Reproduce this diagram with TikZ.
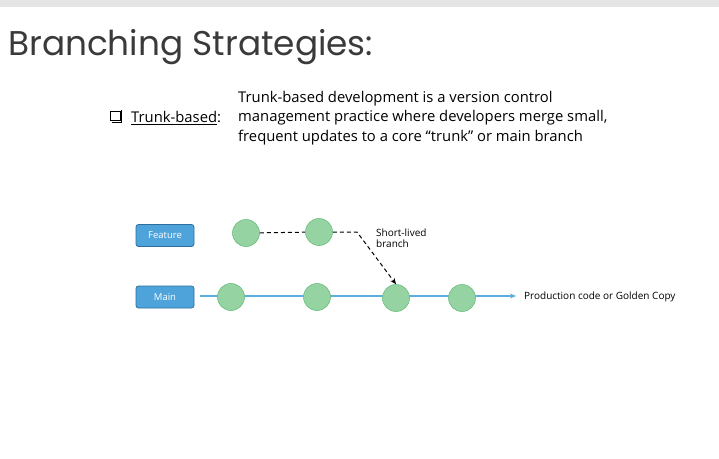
\documentclass[tikz,border=0pt]{standalone}
\usepackage{fontspec}
\setmainfont{Open Sans}
\newfontfamily\titlefont{Poppins}
\usetikzlibrary{arrows.meta}
\definecolor{titlegray}{HTML}{3A3A3A}
\definecolor{boxblue}{HTML}{4EA3DB}
\definecolor{boxedge}{HTML}{2F6E9C}
\definecolor{linblue}{HTML}{5AAFE0}
\definecolor{cfill}{HTML}{95D3A2}
\definecolor{cedge}{HTML}{6CBF7E}
\tikzset{
  lbl/.style={draw=boxedge, fill=boxblue, rounded corners=2.5pt, minimum width=58pt, minimum height=22pt, text=white, font=\fontsize{9.5}{10}\selectfont, inner sep=0pt, line width=0.8pt},
  commit/.style={circle, draw=cedge, fill=cfill, minimum size=27pt, inner sep=0pt, line width=0.6pt},
  dsh/.style={dashed, dash pattern=on 4pt off 3pt, line width=1pt, black},
  small/.style={font=\fontsize{10}{11}\selectfont, text=black, anchor=west, inner sep=0pt, align=left},
}
\begin{document}
\begin{tikzpicture}[x=1pt,y=-1pt]
\useasboundingbox (0,0) rectangle (719,458);
\fill[white] (0,0) rectangle (719,458);
\fill[gray!20] (0,0) rectangle (719,7);
\node[anchor=base west, inner sep=0pt, text=titlegray, font=\titlefont\fontsize{34.3}{40}\selectfont] (title) at (8,55) {Branching Strategies:};
\node[draw=black, line width=0.9pt, minimum size=9.5pt, inner sep=0pt] (chk) at (115.5,116) {};
\draw[black, line width=1.3pt] ([xshift=1.3pt,yshift=-1.1pt]chk.south west) -- ([xshift=1.1pt,yshift=-1.1pt]chk.south east) -- ([xshift=1.1pt,yshift=1.3pt]chk.north east);
\node[anchor=west, inner sep=0pt, font=\fontsize{14.8}{16}\selectfont] (tb) at (131,118) {\underline{Trunk-based}:};
\node[anchor=west, inner sep=0pt, align=left, font=\fontsize{14.8}{19.5}\selectfont] (desc) at (238,118) {Trunk-based development is a version control\\management practice where developers merge small,\\frequent updates to a core “trunk” or main branch};
\node[lbl] (feat) at (165,235.5) {Feature};
\node[lbl] (main) at (165,297) {Main};
\coordinate (ls) at (200,296);
\coordinate (le) at (516,296);
\draw[linblue, line width=1.4pt, -{Stealth[length=6pt,width=5pt]}] (ls) -- (le);
\node[commit] (f1) at (246,233) {};
\node[commit] (f2) at (319,232) {};
\node[commit] (m1) at (231,297) {};
\node[commit] (m2) at (317,297) {};
\node[commit] (m3) at (396,298) {};
\node[commit] (m4) at (462,298) {};
\coordinate (bend) at (357,232);
\draw[dsh] (f1) -- (f2);
\draw[dsh, -{Stealth[length=6pt,width=5pt]}] (f2) -- (bend) -- (m3.north);
\node[small] (sl) at (376,238.5) {Short-lived\\branch};
\node[small] (prod) at (524,297) {Production code or Golden Copy};
\end{tikzpicture}
\end{document}
